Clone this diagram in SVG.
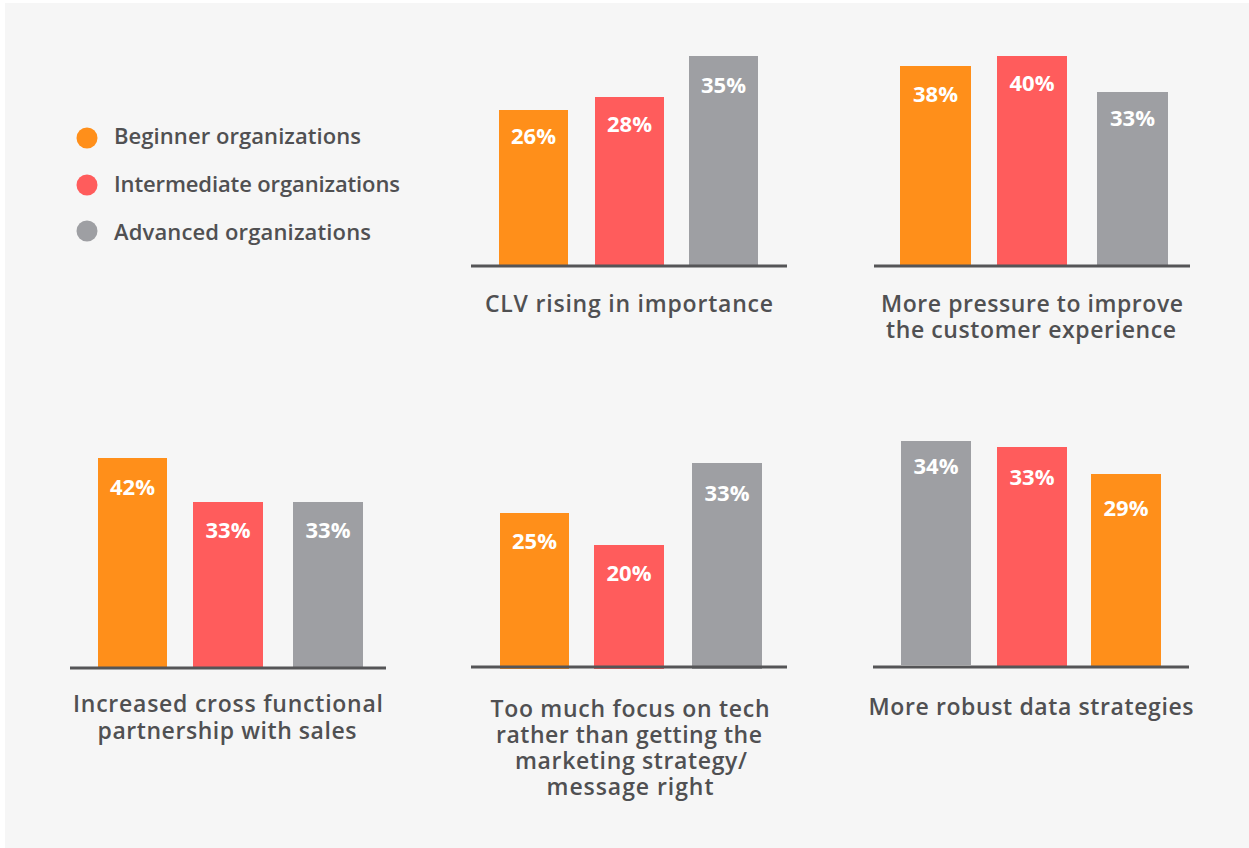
<svg xmlns="http://www.w3.org/2000/svg" width="1249" height="848" viewBox="0 0 1249 848">
<style>
.o{fill:#ff8f1a}.r{fill:#ff5c5c}.g{fill:#9e9fa3}
.axis{stroke:#555557;stroke-width:3}
.val{font-family:"Open Sans","Liberation Sans",sans-serif;font-weight:700;font-size:22px;fill:#ffffff;text-anchor:middle}
.cap{font-family:"Open Sans","Liberation Sans",sans-serif;font-weight:600;font-size:23px;fill:#505052;text-anchor:middle}
.leg{font-family:"Open Sans","Liberation Sans",sans-serif;font-weight:600;font-size:22px;fill:#505052}
</style>
<rect x="0" y="0" width="1249" height="848" fill="#ffffff"/>
<rect x="5" y="3" width="1244" height="845" fill="#f6f6f6"/>
<g id="legend">
<circle class="o" cx="87" cy="138" r="10.5"/>
<circle class="r" cx="87" cy="185" r="10.5"/>
<circle class="g" cx="87" cy="231" r="10.5"/>
<text class="leg" x="114" y="144" textLength="247">Beginner organizations</text>
<text class="leg" x="114" y="192" textLength="286">Intermediate organizations</text>
<text class="leg" x="114" y="240" textLength="257">Advanced organizations</text>
</g>
<g id="chart-clv">
<rect class="o" x="499" y="110" width="69" height="156"/>
<rect class="r" x="595" y="97" width="69" height="169"/>
<rect class="g" x="689" y="56" width="69" height="210"/>
<line class="axis" x1="471" y1="266" x2="787" y2="266"/>
<text class="val" x="533.5" y="144">26%</text>
<text class="val" x="629.5" y="132">28%</text>
<text class="val" x="723.5" y="93">35%</text>
<text class="cap" x="629" y="312" textLength="288">CLV rising in importance</text>
</g>
<g id="chart-pressure">
<rect class="o" x="900" y="66" width="71" height="200"/>
<rect class="r" x="997" y="56" width="70" height="210"/>
<rect class="g" x="1097" y="92" width="71" height="174"/>
<line class="axis" x1="874" y1="266" x2="1190" y2="266"/>
<text class="val" x="935.5" y="102">38%</text>
<text class="val" x="1032" y="91">40%</text>
<text class="val" x="1132.5" y="126">33%</text>
<text class="cap" x="1032" y="312" textLength="302">More pressure to improve</text>
<text class="cap" x="1031" y="338" textLength="290">the customer experience</text>
</g>
<g id="chart-partnership">
<rect class="o" x="98" y="458" width="69" height="210"/>
<rect class="r" x="193" y="502" width="70" height="166"/>
<rect class="g" x="293" y="502" width="70" height="166"/>
<line class="axis" x1="70" y1="668" x2="386" y2="668"/>
<text class="val" x="132.5" y="495">42%</text>
<text class="val" x="228" y="538">33%</text>
<text class="val" x="328" y="538">33%</text>
<text class="cap" x="228" y="712" textLength="310">Increased cross functional</text>
<text class="cap" x="227" y="739" textLength="259">partnership with sales</text>
</g>
<g id="chart-tech">
<rect class="o" x="500" y="513" width="69" height="156"/>
<rect class="r" x="594" y="545" width="70" height="124"/>
<rect class="g" x="692" y="463" width="70" height="206"/>
<line class="axis" x1="471" y1="667" x2="787" y2="667"/>
<text class="val" x="534.5" y="549">25%</text>
<text class="val" x="629" y="581">20%</text>
<text class="val" x="727" y="501">33%</text>
<text class="cap" x="630" y="717" textLength="279">Too much focus on tech</text>
<text class="cap" x="629" y="743" textLength="266">rather than getting the</text>
<text class="cap" x="631" y="769" textLength="232">marketing strategy/</text>
<text class="cap" x="630" y="795" textLength="167">message right</text>
</g>
<g id="chart-data">
<rect class="g" x="901" y="441" width="70" height="224"/>
<rect class="r" x="997" y="447" width="70" height="220"/>
<rect class="o" x="1091" y="474" width="70" height="193"/>
<line class="axis" x1="873" y1="667" x2="1189" y2="667"/>
<text class="val" x="936" y="474">34%</text>
<text class="val" x="1032" y="485">33%</text>
<text class="val" x="1126" y="516">29%</text>
<text class="cap" x="1031" y="715" textLength="325">More robust data strategies</text>
</g>
</svg>
